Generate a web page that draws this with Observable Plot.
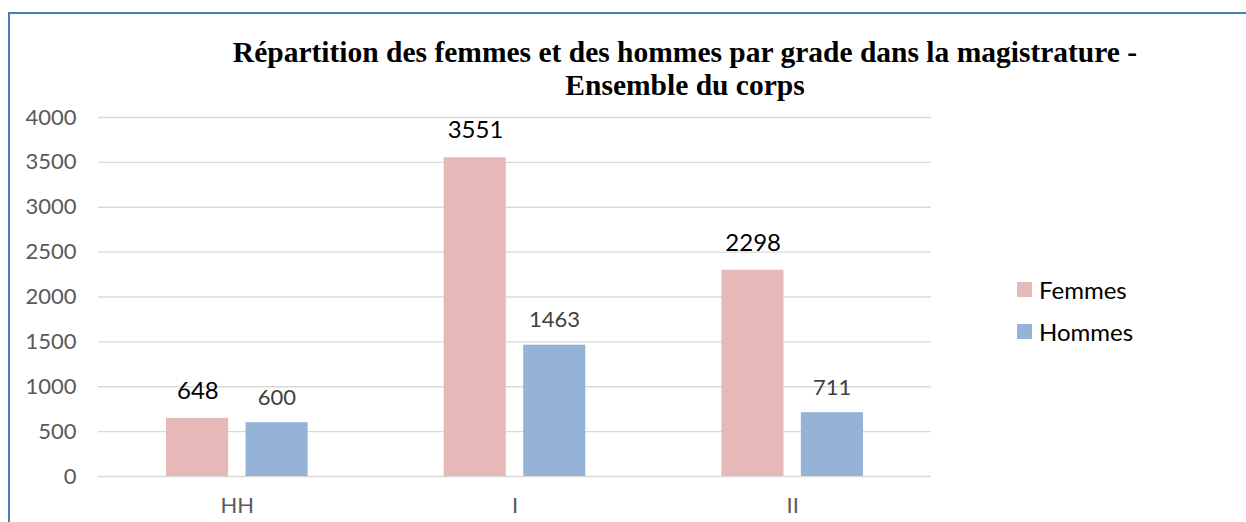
<!DOCTYPE html>
<html>
<head>
<meta charset="utf-8">
<script src="https://cdn.jsdelivr.net/npm/d3@7"></script>
<script src="https://cdn.jsdelivr.net/npm/@observablehq/plot@0.6"></script>
<style>
  html, body { margin: 0; padding: 0; background: #fff; }
  #wrap { position: relative; width: 1246px; height: 522px; overflow: hidden; }
  #border { position: absolute; left: 8px; top: 12px; width: 1300px; height: 600px; border-left: 2px solid #4A7EBB; border-top: 2px solid #4A7EBB; box-sizing: border-box; }
  #title { position: absolute; left: 185px; width: 1000px; top: 36px; text-align: center; font-family: "Liberation Serif", "Times New Roman", serif; font-weight: bold; font-size: 29.5px; line-height: 33px; color: #000; }
  #legend { position: absolute; left: 1017px; top: 275px; font-family: Lato, sans-serif; font-size: 24px; color: #000; }
  .item { display: flex; align-items: center; height: 28px; margin-bottom: 14px; }
  .sw { width: 15px; height: 15px; margin-right: 7px; }
  svg { position: absolute; left: 0; top: 0; }
</style>
</head>
<body>
<div id="wrap">
  <div id="border"></div>
  <div id="chart"></div>
  <div id="title">Répartition des femmes et des hommes par grade dans la magistrature -<br>Ensemble du corps</div>
  <div id="legend"></div>
</div>
<script>
const categories = ["HH", "I", "II"];
const series = ["Femmes", "Hommes"];
const femmes = [648, 3551, 2298];
const hommes = [600, 1463, 711];
const yTicks = [0, 500, 1000, 1500, 2000, 2500, 3000, 3500, 4000];
const colors = ["#E6B9B8", "#95B3D7"];

const dataF = categories.map((c, i) => ({category: c, value: femmes[i]}));
const dataH = categories.map((c, i) => ({category: c, value: hommes[i]}));

const bandInset = 79.5;
const labelOffset = 39.5;

const chart = Plot.plot({
  width: 1246,
  height: 522,
  marginLeft: 98,
  marginRight: 315,
  marginTop: 117,
  marginBottom: 46,
  style: { fontFamily: "Lato, sans-serif", fontSize: "22px", color: "#595959", background: "transparent", overflow: "visible" },
  x: { domain: categories, paddingInner: 0.49, paddingOuter: 0.245, round: false, label: null },
  y: { domain: [0, 4000], label: null },
  marks: [
    Plot.ruleY(yTicks, { stroke: "#D9D9D9", strokeWidth: 1.3 }),
    Plot.axisY({ ticks: yTicks, tickFormat: d => String(d), tickSize: 0, tickPadding: 22, fill: "#595959", fontSize: 22, label: null }),
    Plot.axisX({ tickSize: 0, tickPadding: 21, fill: "#595959", fontSize: 22, label: null }),
    Plot.barY(dataF, { x: "category", y: "value", fill: colors[0], insetRight: bandInset }),
    Plot.barY(dataH, { x: "category", y: "value", fill: colors[1], insetLeft: bandInset }),
    Plot.text(dataF, { x: "category", y: "value", text: d => String(d.value), dx: -labelOffset, dy: -27, fill: "#000", fontSize: 24, lineAnchor: "middle" }),
    Plot.text(dataH, { x: "category", y: "value", text: d => String(d.value), dx: labelOffset, dy: -25, fill: "#404040", fontSize: 22, lineAnchor: "middle" })
  ]
});
document.getElementById("chart").appendChild(chart);

const legend = document.getElementById("legend");
series.forEach((s, i) => {
  const item = document.createElement("div");
  item.className = "item";
  const sw = document.createElement("div");
  sw.className = "sw";
  sw.style.background = colors[i];
  const t = document.createElement("span");
  t.textContent = s;
  item.appendChild(sw);
  item.appendChild(t);
  legend.appendChild(item);
});
</script>
</body>
</html>
